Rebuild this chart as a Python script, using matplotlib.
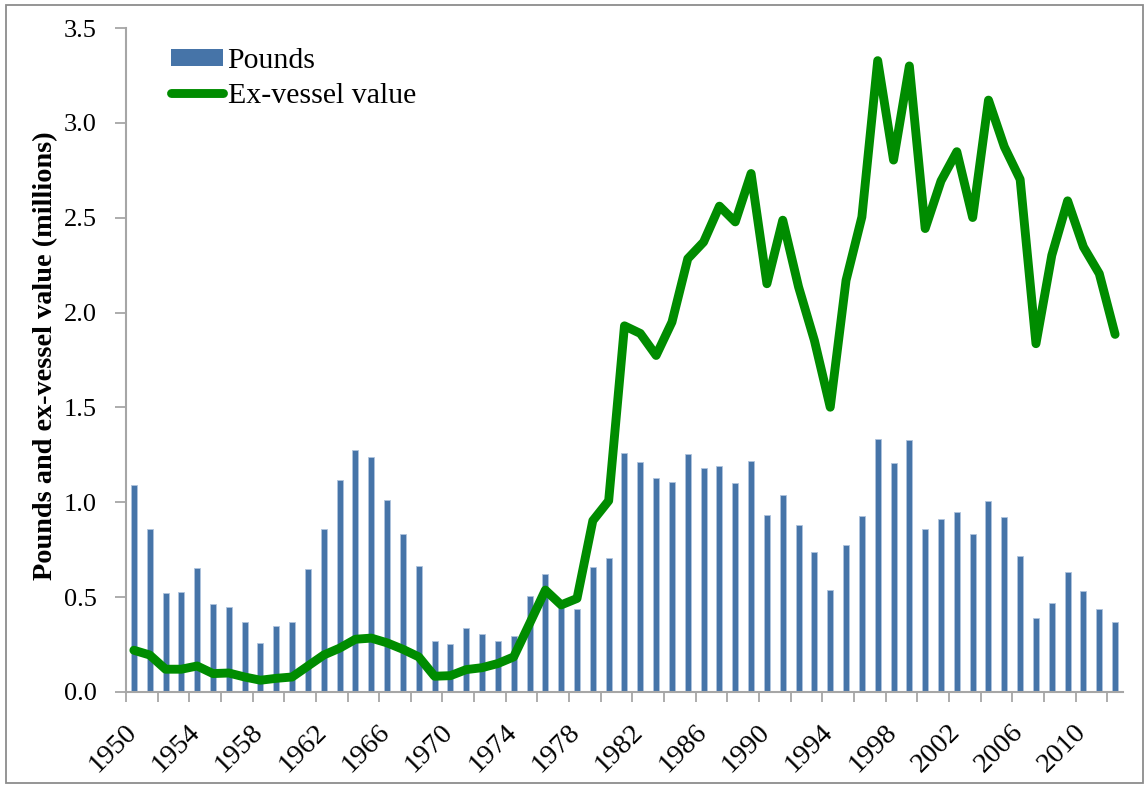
import matplotlib
matplotlib.use("Agg")
import matplotlib.pyplot as plt
from matplotlib.patches import Patch, Rectangle
from matplotlib.lines import Line2D
from matplotlib.transforms import ScaledTranslation
import numpy as np

years = list(range(1950, 2013))
pounds = [1.09, 0.86, 0.52, 0.525, 0.655, 0.465, 0.45, 0.37, 0.26, 0.35,
          0.37, 0.65, 0.86, 1.115, 1.275, 1.24, 1.01, 0.835, 0.665, 0.27,
          0.255, 0.335, 0.305, 0.27, 0.295, 0.505, 0.62, 0.47, 0.435, 0.66,
          0.705, 1.26, 1.21, 1.13, 1.105, 1.255, 1.18, 1.19, 1.10, 1.22,
          0.935, 1.04, 0.88, 0.74, 0.535, 0.775, 0.93, 1.335, 1.205, 1.33,
          0.86, 0.91, 0.95, 0.835, 1.005, 0.925, 0.715, 0.39, 0.47, 0.63,
          0.53, 0.44, 0.37]
value = [0.22, 0.195, 0.12, 0.12, 0.137, 0.097, 0.10, 0.079, 0.062, 0.072,
         0.079, 0.137, 0.195, 0.231, 0.278, 0.284, 0.259, 0.225, 0.185, 0.083,
         0.086, 0.118, 0.128, 0.150, 0.185, 0.36, 0.537, 0.459, 0.493, 0.903,
         1.008, 1.93, 1.89, 1.774, 1.95, 2.284, 2.372, 2.561, 2.478, 2.733,
         2.152, 2.487, 2.135, 1.853, 1.501, 2.17, 2.504, 3.328, 2.804, 3.30,
         2.443, 2.694, 2.848, 2.501, 3.12, 2.874, 2.702, 1.836, 2.302, 2.589,
         2.346, 2.205, 1.885]
yticks = [0.0, 0.5, 1.0, 1.5, 2.0, 2.5, 3.0, 3.5]
label_years = list(range(1950, 2011, 4))

bar_color = "#4674A8"
line_color = "#008C00"
axis_color = "#A6A6A6"
font = "Liberation Serif"

plt.rcParams["font.family"] = [font, "DejaVu Serif"]

fig = plt.figure(figsize=(11.45, 7.85), dpi=100)
ax = fig.add_axes([0.1100, 0.1185, 0.8708, 0.8458])

x = np.arange(len(years))
ax.bar(x, pounds, width=0.38, color=bar_color, edgecolor="#AFC3DD",
       linewidth=0.6, zorder=2)
ax.plot(x, value, color=line_color, linewidth=6.4, solid_joinstyle="round",
        solid_capstyle="round", zorder=3)

ax.set_xlim(-0.5, len(years) - 0.5)
ax.set_ylim(0, 3.5)
ax.set_yticks(yticks)
ax.set_yticklabels([f"{v:.1f}" for v in yticks], fontsize=19)

lab_pos = [years.index(y) for y in label_years]
ax.set_xticks(lab_pos)
ax.set_xticklabels([str(y) for y in label_years], fontsize=20.5, rotation=45,
                   ha="right", va="top")
ax.set_xticks(np.arange(-0.5, len(years) - 0.5, 2), minor=True)
ax.tick_params(axis="x", which="major", length=0, pad=19.5)
ax.tick_params(axis="x", which="minor", length=7, width=1.3, color=axis_color,
               direction="out")
ax.tick_params(axis="y", which="major", length=8, width=1.3, color=axis_color,
               direction="out", pad=13)
off = ScaledTranslation(8 / 100, 0, fig.dpi_scale_trans)
for lbl in ax.get_xticklabels():
    lbl.set_transform(lbl.get_transform() + off)

for s in ["top", "right"]:
    ax.spines[s].set_visible(False)
for s in ["left", "bottom"]:
    ax.spines[s].set_color(axis_color)
    ax.spines[s].set_linewidth(1.5)

ax.set_ylabel("Pounds and ex-vessel value (millions)", fontsize=20.3,
              fontweight="bold")
ax.yaxis.set_label_coords(-0.068, 0.506)

handles = [Patch(facecolor=bar_color, edgecolor="none"),
           Line2D([0], [0], color=line_color, linewidth=6.4, solid_capstyle="round")]
leg = ax.legend(handles, ["Pounds", "Ex-vessel value"], loc="upper left",
                bbox_to_anchor=(0.033, 0.988), frameon=False, fontsize=21.5,
                handlelength=1.75, handleheight=0.5, handletextpad=0.15,
                labelspacing=0.3, borderaxespad=0)

fig.patches.append(Rectangle((6 / 1145, 2 / 785), 1137 / 1145, 778 / 785,
                             transform=fig.transFigure, fill=False,
                             edgecolor="#8C8C8C", linewidth=1.3))

fig.savefig("out.png", dpi=100)
